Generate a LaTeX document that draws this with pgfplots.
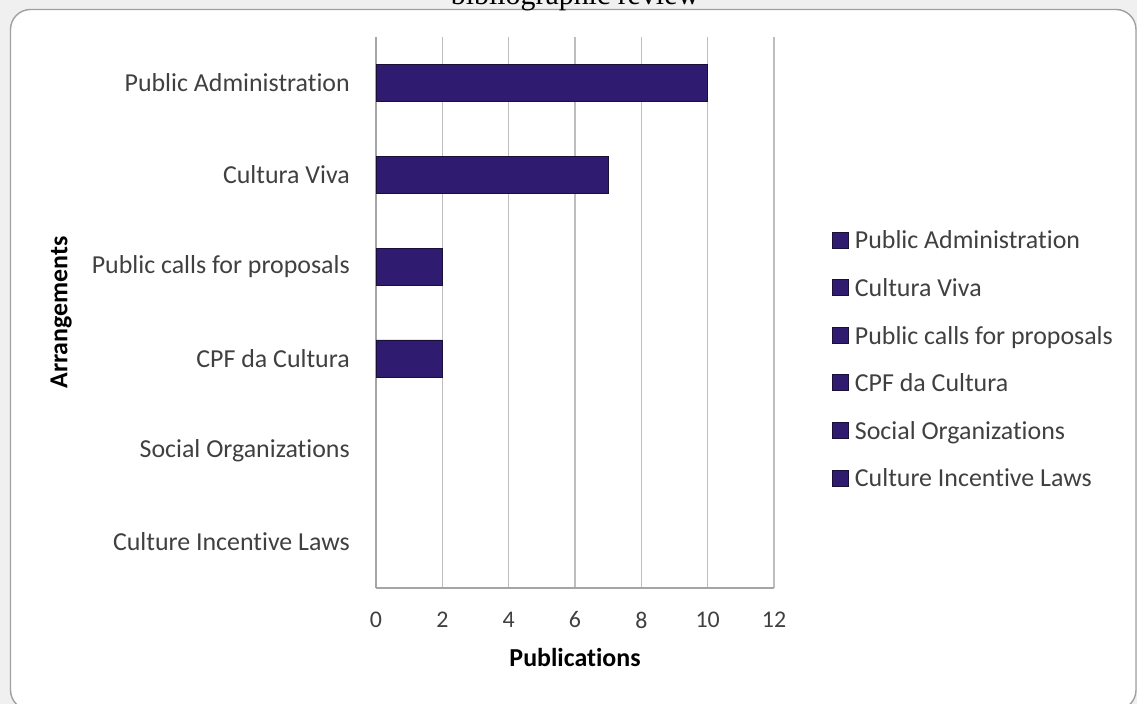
\documentclass[border=0pt]{standalone}
\usepackage{pgfplots}
\pgfplotsset{compat=1.18}
\usepackage{fontspec}
\setmainfont{Carlito}[Ligatures=NoCommon]
\newfontfamily\titlefont{Liberation Serif}

\definecolor{barfill}{RGB}{47,27,112}
\definecolor{bardraw}{RGB}{25,15,55}
\definecolor{gridc}{RGB}{190,190,190}
\definecolor{axc}{RGB}{165,165,165}
\definecolor{bgc}{RGB}{240,240,240}
\definecolor{framec}{RGB}{160,160,160}
\definecolor{labc}{RGB}{64,64,64}

\begin{document}
\begin{tikzpicture}
\fill[bgc] (0,0) rectangle (1137bp,704bp);
\draw[framec, fill=white, line width=1.4bp, rounded corners=20bp]
  (10.5bp,-6bp) rectangle (1136bp,694.5bp);
% caption of the source figure, cut by the top edge
\node[font=\titlefont\fontsize{30}{36}\selectfont, anchor=base, inner sep=0pt]
  at (575bp,699bp) {bibliographic review};
\begin{axis}[
  at={(376bp,116bp)}, anchor=south west,
  scale only axis, width=398bp, height=551bp,
  xbar, bar width=37bp,
  xmin=0, xmax=12, xtick={0,2,...,12},
  ymin=-0.5, ymax=5.5, y dir=reverse,
  ytick={0,...,5},
  yticklabels={Public Administration,Cultura Viva,Public calls for proposals,CPF da Cultura,Social Organizations,Culture Incentive Laws},
  xmajorgrids, grid style={gridc, line width=1.3bp},
  axis x line*=bottom, axis y line*=left,
  axis line style={axc, line width=1.3bp},
  major tick length=0pt,
  /pgf/number format/assume math mode=true,
  xticklabel style={font=\fontsize{24}{28}\selectfont, text=labc, anchor=center, yshift=-32bp},
  yticklabel style={font=\fontsize{26}{30}\selectfont, text=labc, anchor=east, inner sep=0pt, xshift=-26bp},
  xlabel={Publications},
  ylabel={Arrangements},
  xlabel style={font=\bfseries\fontsize{26}{30}\selectfont, at={(axis description cs:0.5,-0.127)}, anchor=center},
  ylabel style={font=\bfseries\fontsize{26}{30}\selectfont, at={(axis description cs:-0.791,0.5)}, anchor=center, rotate=0},
  legend style={at={(axis description cs:1.138,0.652)}, anchor=north west,
    draw=none, fill=none, row sep=23.6bp, column sep=6bp,
    nodes={inner sep=0pt, text height=18bp, text depth=6bp, font=\fontsize{26}{30}\selectfont, text=labc}},
  legend cell align=left,
  legsq/.style={legend image code/.code={\draw[fill=barfill, draw=bardraw, line width=0.8bp] (0bp,-5bp) rectangle (16bp,11bp);}},
]
\addplot[fill=barfill, draw=bardraw, line width=0.8bp, forget plot, bar shift=0pt,
  x filter/.expression={x==0 ? nan : x}]
  coordinates {(10,0) (7,1) (2,2) (2,3) (0,4) (0,5)};
\addlegendimage{legsq}
\addlegendentry{Public Administration}
\addlegendimage{legsq}
\addlegendentry{Cultura Viva}
\addlegendimage{legsq}
\addlegendentry{Public calls for proposals}
\addlegendimage{legsq}
\addlegendentry{CPF da Cultura}
\addlegendimage{legsq}
\addlegendentry{Social Organizations}
\addlegendimage{legsq}
\addlegendentry{Culture Incentive Laws}
\end{axis}
\pgfresetboundingbox
\useasboundingbox (0,0) rectangle (1137bp,704bp);
\end{tikzpicture}
\end{document}
